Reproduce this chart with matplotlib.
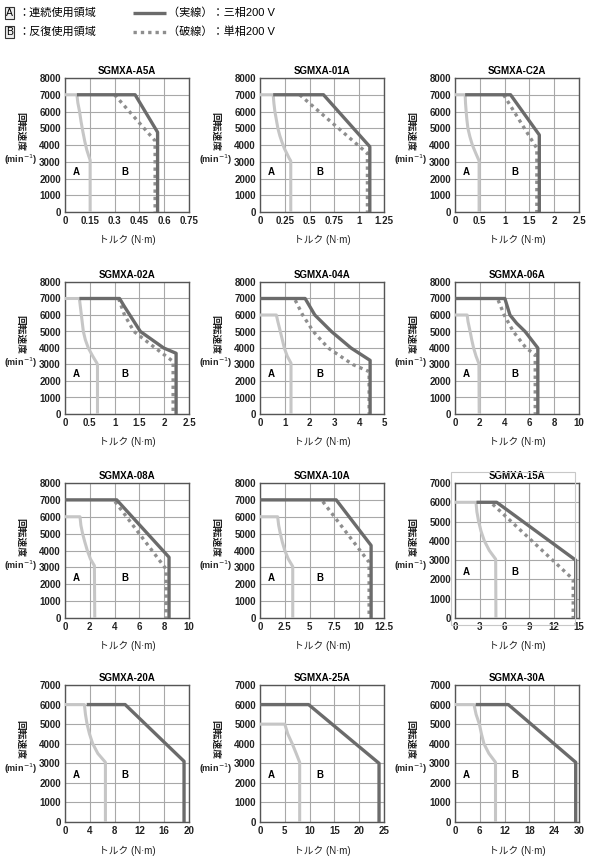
import matplotlib
matplotlib.use("Agg")
import matplotlib.pyplot as plt
from matplotlib.lines import Line2D
from matplotlib.patches import Rectangle

plt.rcParams['font.family'] = ['Liberation Sans', 'Noto Sans CJK JP', 'DejaVu Sans']

# ---- data: (torque N·m, speed min-1) ----
models = ["SGMXA-A5A", "SGMXA-01A", "SGMXA-C2A",
          "SGMXA-02A", "SGMXA-04A", "SGMXA-06A",
          "SGMXA-08A", "SGMXA-10A", "SGMXA-15A",
          "SGMXA-20A", "SGMXA-25A", "SGMXA-30A"]
x_max = [0.75, 1.25, 2.5, 2.5, 5, 10, 10, 12.5, 15, 20, 25, 30]
x_step = [0.15, 0.25, 0.5, 0.5, 1, 2, 2, 2.5, 3, 4, 5, 6]
y_max = [8000] * 8 + [7000] * 4

a5a_cont = [(0, 7000), (0.072, 7000), (0.078, 6500), (0.088, 6000), (0.097, 5400), (0.108, 4800),
            (0.12, 4200), (0.132, 3700), (0.145, 3300), (0.152, 3100), (0.152, 0)]
a5a_3ph = [(0.072, 7000), (0.424, 7000), (0.56, 4760), (0.56, 0)]
a5a_1ph = [(0.30, 7000), (0.545, 4250), (0.545, 0)]

m01a_cont = [(0, 7000), (0.133, 7000), (0.14, 6500), (0.15, 6000), (0.165, 5500), (0.18, 5000),
             (0.20, 4550), (0.22, 4200), (0.245, 3800), (0.27, 3500), (0.295, 3200), (0.31, 3050), (0.31, 0)]
m01a_3ph = [(0.133, 7000), (0.64, 7000), (1.107, 3900), (1.107, 0)]
m01a_1ph = [(0.40, 7000), (1.083, 3500), (1.083, 0)]

c2a_cont = [(0, 7000), (0.205, 7000), (0.212, 6500), (0.225, 6000), (0.24, 5500), (0.26, 5000),
            (0.30, 4500), (0.35, 4000), (0.42, 3500), (0.486, 3050), (0.486, 0)]
c2a_3ph = [(0.205, 7000), (1.12, 7000), (1.70, 4600), (1.70, 0)]
c2a_1ph = [(0.98, 7000), (1.65, 3800), (1.65, 0)]

m02a_cont = [(0, 7000), (0.29, 7000), (0.31, 6500), (0.33, 6000), (0.35, 5500), (0.37, 5000),
             (0.41, 4500), (0.47, 4000), (0.56, 3500), (0.64, 3100), (0.655, 3000), (0.655, 0)]
m02a_3ph = [(0.29, 7000), (1.10, 7000), (1.20, 6500), (1.52, 5000), (1.99, 4000), (2.24, 3680), (2.24, 0)]
m02a_1ph = [(1.08, 7000), (1.20, 6000), (1.39, 5000), (1.82, 4000), (2.18, 3180), (2.18, 0)]

m04a_cont = [(0, 6000), (0.66, 6000), (0.72, 5600), (0.77, 5300), (0.82, 5000), (0.90, 4500),
             (0.98, 4000), (1.10, 3500), (1.25, 3080), (1.25, 0)]
m04a_3ph = [(0, 7000), (1.82, 7000), (2.21, 6000), (2.88, 5000), (3.67, 4000), (4.44, 3250), (4.44, 0)]
m04a_1ph = [(1.42, 6900), (1.72, 6000), (2.15, 5000), (2.75, 4000), (3.74, 3000), (4.40, 2570), (4.40, 0)]

m06a_cont = [(0, 6000), (0.98, 6000), (1.05, 5600), (1.22, 5000), (1.35, 4500), (1.5, 4000),
             (1.70, 3500), (1.93, 3050), (1.95, 0)]
m06a_3ph = [(0, 7000), (4.02, 7000), (4.43, 6000), (4.97, 5500), (5.65, 5000), (6.68, 4000), (6.68, 0)]
m06a_1ph = [(3.48, 6900), (3.97, 6000), (4.70, 5000), (5.73, 4000), (6.47, 3600), (6.47, 0)]

m08a_cont = [(0, 6000), (1.21, 6000), (1.28, 5500), (1.42, 5000), (1.60, 4500), (1.8, 4000),
             (2.05, 3500), (2.37, 3100), (2.4, 0)]
m08a_3ph = [(0, 7000), (4.17, 7000), (8.39, 3600), (8.39, 0)]
m08a_1ph = [(4.03, 6900), (8.15, 2900), (8.15, 0)]

m10a_cont = [(0, 6000), (1.78, 6000), (1.88, 5500), (2.05, 5000), (2.25, 4500), (2.5, 4000),
             (2.85, 3500), (3.3, 3050), (3.3, 0)]
m10a_3ph = [(0, 7000), (7.68, 7000), (11.2, 4300), (11.2, 0)]
m10a_1ph = [(6.33, 6900), (11.0, 3300), (11.0, 0)]

m15a_cont = [(0, 6000), (2.54, 6000), (2.65, 5500), (2.86, 5000), (3.15, 4500), (3.55, 4000),
             (4.15, 3500), (4.92, 3050), (4.95, 0)]
m15a_3ph = [(2.6, 6000), (5.04, 6000), (14.6, 3000), (14.6, 0)]
m15a_1ph = [(4.56, 5900), (14.3, 2000), (14.3, 0)]

m20a_cont = [(0, 6000), (3.13, 6000), (3.3, 5500), (3.56, 5000), (3.95, 4500), (4.47, 4000),
             (5.3, 3500), (6.52, 3050), (6.52, 0)]
m20a_3ph = [(3.5, 6000), (9.7, 6000), (19.2, 3100), (19.2, 0)]

m25a_cont = [(0, 5000), (5.0, 5000), (5.6, 4500), (6.5, 4000), (7.3, 3500), (8.0, 3050), (8.0, 0)]
m25a_3ph = [(0, 6000), (9.8, 6000), (24.0, 3000), (24.0, 0)]

m30a_cont = [(0, 6000), (4.6, 6000), (5.1, 5500), (5.9, 5000), (6.4, 4500), (7.0, 4000),
             (8.2, 3500), (9.8, 3050), (9.8, 0)]
m30a_3ph = [(5.0, 6000), (12.9, 6000), (29.2, 3050), (29.2, 0)]

cont_curves = [a5a_cont, m01a_cont, c2a_cont, m02a_cont, m04a_cont, m06a_cont,
               m08a_cont, m10a_cont, m15a_cont, m20a_cont, m25a_cont, m30a_cont]
three_phase = [a5a_3ph, m01a_3ph, c2a_3ph, m02a_3ph, m04a_3ph, m06a_3ph,
               m08a_3ph, m10a_3ph, m15a_3ph, m20a_3ph, m25a_3ph, m30a_3ph]
single_phase = [a5a_1ph, m01a_1ph, c2a_1ph, m02a_1ph, m04a_1ph, m06a_1ph,
                m08a_1ph, m10a_1ph, m15a_1ph, None, None, None]

# ---- layout (pixels) ----
W, H = 600, 863
col_left = [65, 260, 455]
ax_w = 124
row_top = [78, 282, 483, 685]
row_bot = [212, 414, 618, 822]

C_3PH = '#6b6b6b'
C_1PH = '#8e8e8e'
C_CONT = '#c6c6c6'
C_GRID = '#a8a8a8'
C_SPINE = '#555555'

fig = plt.figure(figsize=(W / 100, H / 100), dpi=100)


def xy(pts):
    return [p[0] for p in pts], [p[1] for p in pts]


for i, name in enumerate(models):
    r, c = divmod(i, 3)
    left = col_left[c] / W
    bottom = 1 - row_bot[r] / H
    h = (row_bot[r] - row_top[r]) / H
    ax = fig.add_axes([left, bottom, ax_w / W, h])

    xt = [round(k * x_step[i], 3) for k in range(int(round(x_max[i] / x_step[i])) + 1)]
    yt = list(range(0, y_max[i] + 1, 1000))
    ax.set_xlim(0, x_max[i])
    ax.set_ylim(0, y_max[i])
    ax.set_xticks(xt)
    ax.set_xticklabels([f"{v:g}" for v in xt])
    ax.set_yticks(yt)
    ax.tick_params(length=0, labelsize=7, pad=3)
    for lab in ax.get_xticklabels() + ax.get_yticklabels():
        lab.set_fontweight('bold')
        lab.set_color('#222222')
    ax.grid(True, color=C_GRID, lw=0.8)
    ax.set_axisbelow(True)
    for s in ax.spines.values():
        s.set_color(C_SPINE)
        s.set_linewidth(1.0)

    x, y = xy(cont_curves[i])
    ax.plot(x, y, color=C_CONT, lw=2.2, solid_capstyle='butt', solid_joinstyle='round',
            zorder=3, clip_on=False)
    if single_phase[i] is not None:
        x, y = xy(single_phase[i])
        ax.plot(x, y, color=C_1PH, lw=2.4, linestyle=(0, (1, 1.2)), zorder=4, clip_on=False)
    x, y = xy(three_phase[i])
    ax.plot(x, y, color=C_3PH, lw=2.4, solid_capstyle='butt', zorder=5, clip_on=False)

    yl = 0.34 if y_max[i] == 7000 else 0.30
    ax.text(0.09, yl, "A", transform=ax.transAxes, fontsize=7, fontweight='bold', ha='center', va='center')
    ax.text(0.48, yl, "B", transform=ax.transAxes, fontsize=7, fontweight='bold', ha='center', va='center')

    ax.set_title(name, fontsize=7, fontweight='bold', pad=3)
    ax.text(0.5, -0.21, "トルク (N·m)", transform=ax.transAxes, fontsize=7,
            ha='center', va='center', color='#222222')
    ax.text(-0.36, 0.6, "回転速度", transform=ax.transAxes, fontsize=7, rotation=-90,
            ha='center', va='center', color='#222222', fontweight='bold')
    ax.text(-0.36, 0.39, r"(min$^{\mathsf{-1}}$)", transform=ax.transAxes, fontsize=6.5,
            ha='center', va='center', color='#222222', fontweight='bold')

# light frame around 15A panel
fig.patches.append(Rectangle((451 / W, 1 - 625 / H), 124 / W, 153 / H, transform=fig.transFigure,
                             fill=False, edgecolor='#c8c8c8', lw=0.8, zorder=0))


# ---- legend at top ----
def fx(px):
    return px / W


def fy(py):
    return 1 - py / H


box = dict(boxstyle='square,pad=0.12', facecolor='#eeeeee', edgecolor='#333333', lw=0.8)
fig.text(fx(6), fy(13), "A", fontsize=7.5, ha='left', va='center', bbox=box)
fig.text(fx(6), fy(32), "B", fontsize=7.5, ha='left', va='center', bbox=box)
fig.text(fx(18), fy(13), "：連続使用領域", fontsize=8, ha='left', va='center')
fig.text(fx(18), fy(32), "：反復使用領域", fontsize=8, ha='left', va='center')
fig.add_artist(Line2D([fx(133), fx(166)], [fy(13), fy(13)], color=C_3PH, lw=2.4,
                      solid_capstyle='butt', transform=fig.transFigure))
fig.add_artist(Line2D([fx(133), fx(166)], [fy(32), fy(32)], color=C_1PH, lw=2.4,
                      linestyle=(0, (1, 1.2)), transform=fig.transFigure))
fig.text(fx(168), fy(13), "（実線）：三相200 V", fontsize=8, ha='left', va='center')
fig.text(fx(168), fy(32), "（破線）：単相200 V", fontsize=8, ha='left', va='center')

fig.savefig("out.png", dpi=100, facecolor='white')
